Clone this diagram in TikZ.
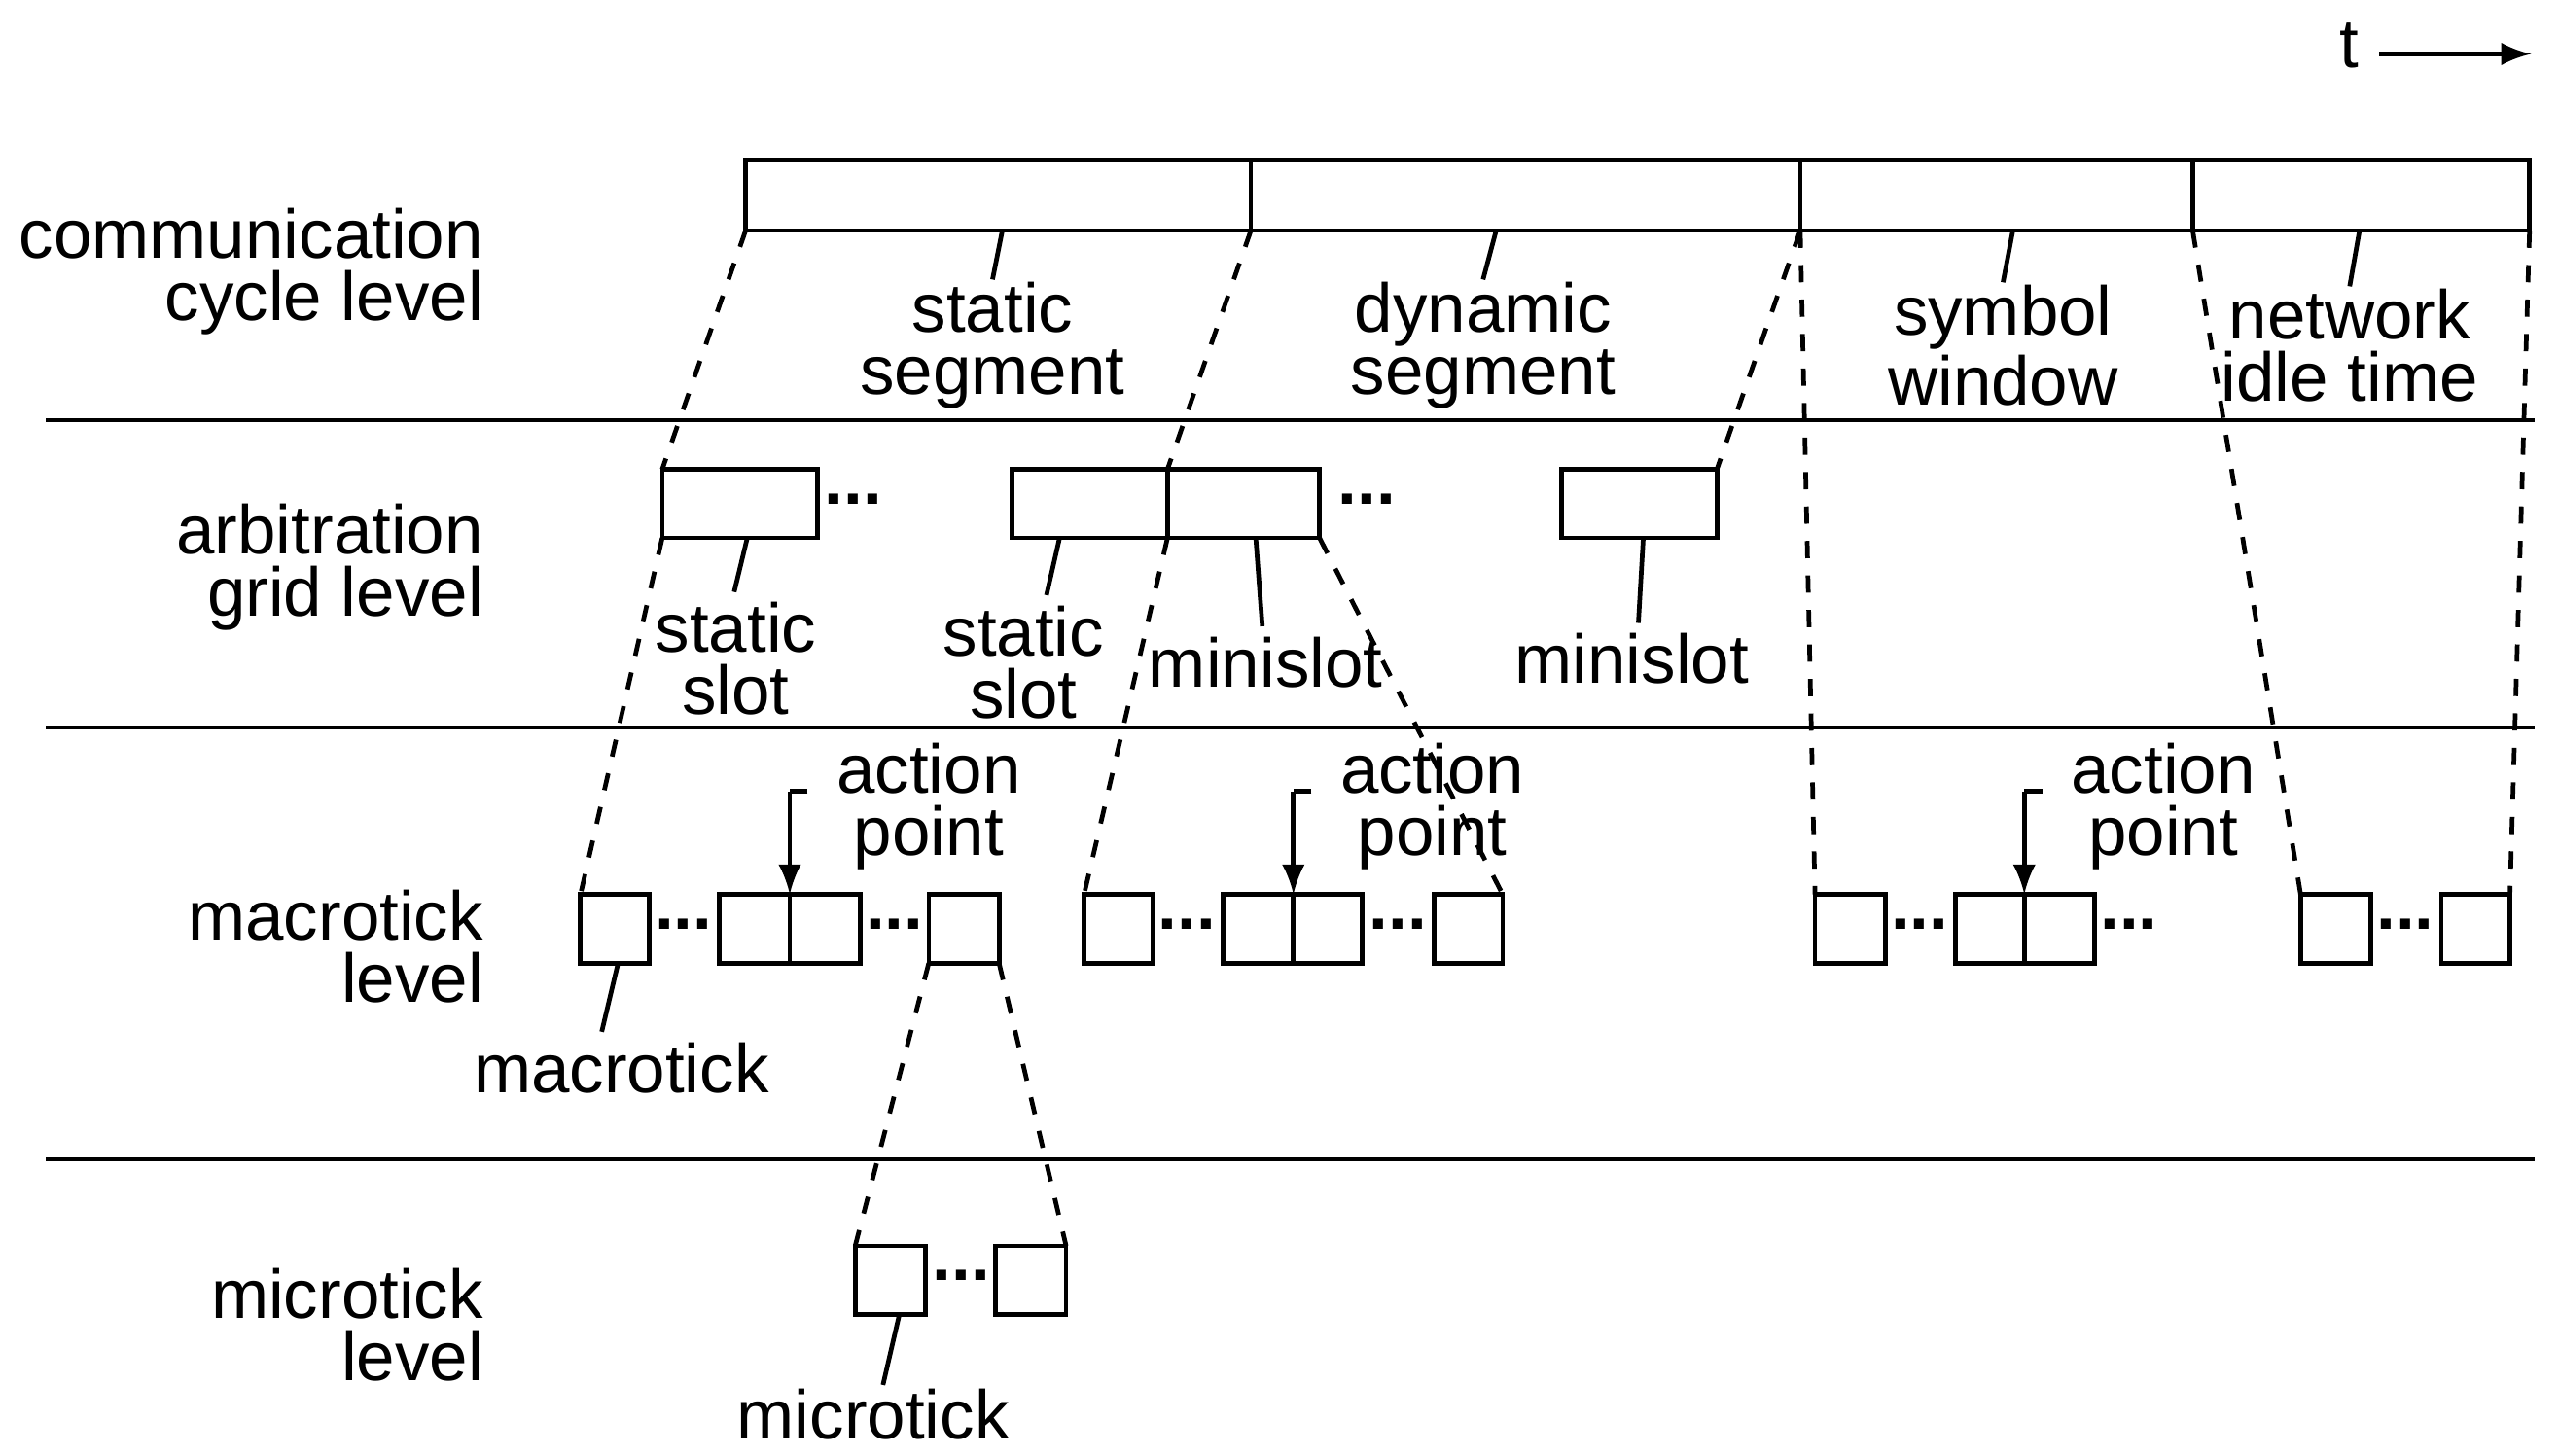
\documentclass[tikz,border=0pt]{standalone}
\usepackage{fontspec}
\setmainfont{Liberation Sans}
\usetikzlibrary{fit}
\begin{document}
\begin{tikzpicture}[x=0.01cm,y=-0.01cm,>=latex,line width=0.8pt,
  tb/.style={draw,inner sep=0pt,outer sep=0pt},
  lbl/.style={font=\fontsize{12}{10.8}\selectfont,align=center,inner sep=0pt},
  dl/.style={dashed},
  dts/.style={font=\bfseries\fontsize{12}{12}\selectfont,inner sep=0pt}]
\useasboundingbox (0,0) rectangle (1565,890);

% t arrow
\node[lbl] (t) at (1437,28) {t};
\coordinate (ta) at (1455,33);
\coordinate (tb) at (1548,33);
\draw[->] (ta) -- (tb);

% level separators
\foreach \y/\n in {257/a,445/b,709/c}{
  \coordinate (sl\n) at (28,\y); \coordinate (sr\n) at (1550,\y);
  \draw (sl\n) -- (sr\n);}

% level labels
\node[lbl,anchor=east,align=right] (l1) at (297,166) {communication\\cycle level};
\node[lbl,anchor=east,align=right] (l2) at (297,347) {arbitration\\grid level};
\node[lbl,anchor=east,align=right] (l3) at (297,579) {macrotick\\level};
\node[lbl,anchor=east,align=right] (l4) at (297,810) {microtick\\level};

% communication cycle
\node[tb,fit={(456,98) (765,141)}] (cs) {};
\node[tb,fit={(765,98) (1101,141)}] (cd) {};
\node[tb,fit={(1101,98) (1341,141)}] (cw) {};
\node[tb,fit={(1341,98) (1547,141)}] (cn) {};
\node[lbl] (ts) at (607,211) {static\\segment};
\node[lbl] (td) at (907,211) {dynamic\\segment};
\node[lbl] (tw) at (1225,211) {symbol\\window};
\node[lbl] (tn) at (1437,211) {network\\idle time};
\draw (613,141) -- (ts.north);
\draw (915,141) -- (td.north);
\draw (1231,141) -- (tw.north);
\draw (1443,141) -- (tn.north);

% arbitration grid
\node[tb,fit={(405,287) (500,329)}] (as1) {};
\node[dts] (ad1) at (522,305) {...};
\node[tb,fit={(619,287) (714,329)}] (as2) {};
\node[tb,fit={(714,287) (807,329)}] (am1) {};
\node[dts] (ad2) at (836,305) {...};
\node[tb,fit={(955,287) (1050,329)}] (am2) {};
\node[lbl] (tss1) at (450,403) {static\\slot};
\node[lbl] (tss2) at (626,405) {static\\slot};
\node[lbl] (tm1) at (774,405) {minislot};
\node[lbl] (tm2) at (998,403) {minislot};
\draw (457,329) -- (449,362);
\draw (648,329) -- (640,364);
\draw (768,329) -- (772,383);
\draw (1005,329) -- (1002,381);
\draw[dl] (cs.south west) -- (as1.north west);
\draw[dl] (cd.south west) -- (am1.north west);
\draw[dl] (cw.south west) -- (am2.north east);

% macroticks
\foreach \n/\a/\b in {m1/355/397,m2/440/483,m3/483/526,m4/568/611,
  m5/663/705,m6/748/791,m7/791/833,m8/877/919,
  m9/1110/1153,m10/1196/1238,m11/1238/1281,m12/1407/1450,m13/1493/1535}
  \node[tb,fit={(\a,547) (\b,589)}] (\n) {};
\foreach \n/\x in {d1/418,d2/547,d3/726,d4/855,d5/1174,d6/1302,d7/1471}
  \node[dts] (\n) at (\x,565) {...};

\draw[dl] (as1.south west) -- (m1.north west);
\draw[dl] (am1.south west) -- (m5.north west);
\draw[dl] (am1.south east) -- (m8.north east);
\draw[dl] (cw.south west) -- (m9.north west);
\draw[dl] (cn.south west) -- (m12.north west);
\draw[dl] (cn.south east) -- (m13.north east);

% action points
\foreach \n/\x/\lx in {p1/483/568,p2/791/876,p3/1238/1323}{
  \node[lbl] (t\n) at (\lx,493) {action\\point};
  \coordinate (\n a) at (\x,484);
  \coordinate (\n b) at (\x+11,484);
  \draw (\n b) -- (\n a);
  \draw[->] (\n a) -- (\x,547);}

\node[lbl] (tmt) at (380,653) {macrotick};
\draw (378,589) -- (368,631);

% microticks
\node[tb,fit={(523,762) (566,804)}] (u1) {};
\node[tb,fit={(609,762) (652,804)}] (u2) {};
\node[dts] (ud) at (588,780) {...};
\draw[dl] (m4.south west) -- (u1.north west);
\draw[dl] (m4.south east) -- (u2.north east);
\node[lbl] (tut) at (534,865) {microtick};
\draw (550,804) -- (540,847);
\end{tikzpicture}
\end{document}
